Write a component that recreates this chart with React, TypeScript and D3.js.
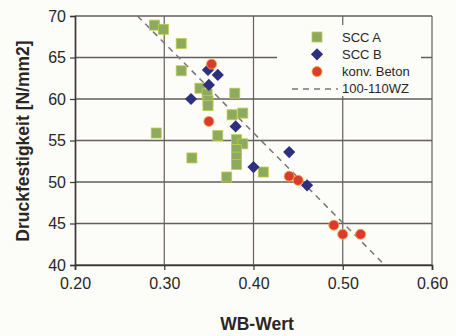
import { useEffect, useRef } from "react";
import * as d3 from "d3";

// WB-Wert vs. Druckfestigkeit
const sccA: [number, number][] = [
  [0.289, 68.9], [0.299, 68.4], [0.319, 66.7], [0.319, 63.4], [0.291, 55.9],
  [0.331, 52.9], [0.340, 61.3], [0.348, 60.6], [0.349, 59.8], [0.349, 59.2],
  [0.379, 60.7], [0.376, 58.1], [0.388, 58.3], [0.360, 55.6], [0.381, 55.1],
  [0.388, 54.6], [0.381, 53.9], [0.381, 53.0], [0.381, 52.1], [0.370, 50.6],
  [0.411, 51.2],
];
const sccB: [number, number][] = [
  [0.349, 63.5], [0.360, 62.9], [0.350, 61.7], [0.330, 60.0], [0.380, 56.7],
  [0.400, 51.8], [0.440, 53.6], [0.460, 49.6],
];
const konvBeton: [number, number][] = [
  [0.353, 64.2], [0.350, 57.3], [0.440, 50.7], [0.450, 50.2], [0.490, 44.8],
  [0.500, 43.7], [0.520, 43.7],
];
const refLine: [number, number][] = [[0.27, 70], [0.547, 40]];
const xTicks = [0.2, 0.3, 0.4, 0.5, 0.6];
const yTicks = [40, 45, 50, 55, 60, 65, 70];
const legendItems = ["SCC A", "SCC B", "konv. Beton", "100-110WZ"];

export default function App() {
  const svgRef = useRef<SVGSVGElement>(null);

  useEffect(() => {
    if (!svgRef.current) return;
    const svg = d3.select(svgRef.current);
    svg.selectAll("*").remove();

    const width = 456;
    const height = 336;
    const x = d3.scaleLinear().domain([0.2, 0.6]).range([75, 432]);
    const y = d3.scaleLinear().domain([40, 70]).range([265, 16]);
    const font = "'Liberation Sans', Arial, sans-serif";
    const gridColor = "#645e5c";

    svg.append("rect").attr("width", width).attr("height", height).attr("fill", "#fcfcf8");

    // grid
    svg.append("g")
      .selectAll("line")
      .data(yTicks)
      .join("line")
      .attr("x1", x(0.2)).attr("x2", x(0.6))
      .attr("y1", (d) => y(d)).attr("y2", (d) => y(d))
      .attr("stroke", gridColor).attr("stroke-width", 1.5);
    svg.append("g")
      .selectAll("line")
      .data(xTicks.slice(1))
      .join("line")
      .attr("x1", (d) => x(d)).attr("x2", (d) => x(d))
      .attr("y1", y(40)).attr("y2", y(70))
      .attr("stroke", gridColor).attr("stroke-width", 1.2);

    // axes
    const yAxis = svg.append("g")
      .attr("transform", `translate(${x(0.2)},0)`)
      .call(d3.axisLeft(y).tickValues(yTicks).tickSize(5).tickPadding(4).tickFormat(d3.format("d")));
    const xAxis = svg.append("g")
      .attr("transform", `translate(0,${y(40)})`)
      .call(d3.axisBottom(x).tickValues(xTicks).tickSize(5).tickPadding(8).tickFormat(d3.format(".2f")));
    [yAxis, xAxis].forEach((a) => {
      a.select(".domain").attr("stroke", "#3b3535").attr("stroke-width", 1.7);
      a.selectAll(".tick line").attr("stroke", "#3b3535").attr("stroke-width", 1.2);
      a.selectAll("text").attr("fill", "#2b2626").style("font-family", font).style("font-size", "16px");
    });

    // legend background hides grid
    svg.append("rect")
      .attr("x", 277).attr("y", 25).attr("width", 144).attr("height", 71)
      .attr("fill", "#fcfcf8");

    // reference line
    svg.append("path")
      .datum(refLine)
      .attr("d", d3.line<[number, number]>().x((d) => x(d[0])).y((d) => y(d[1])))
      .attr("stroke", "#7a7676").attr("stroke-width", 1.5)
      .attr("stroke-dasharray", "6,5").attr("fill", "none");

    const square = (g: d3.Selection<any, any, any, any>) =>
      g.attr("fill", "#8cab5c").attr("stroke", "#c3c94e").attr("stroke-width", 0.8);

    svg.append("g")
      .selectAll("rect")
      .data(sccA)
      .join("rect")
      .attr("x", (d) => x(d[0]) - 5).attr("y", (d) => y(d[1]) - 5)
      .attr("width", 10).attr("height", 10)
      .call(square);

    const diamond = d3.symbol().type(d3.symbolDiamond2).size(95);
    svg.append("g")
      .selectAll("path")
      .data(sccB)
      .join("path")
      .attr("transform", (d) => `translate(${x(d[0])},${y(d[1])})`)
      .attr("d", diamond)
      .attr("fill", "#2f307d");

    svg.append("g")
      .selectAll("circle")
      .data(konvBeton)
      .join("circle")
      .attr("cx", (d) => x(d[0])).attr("cy", (d) => y(d[1]))
      .attr("r", 5)
      .attr("fill", "#dc3a30").attr("stroke", "#eea63a").attr("stroke-width", 0.9);

    // legend
    const lg = svg.append("g");
    const rowY = (i: number) => 37 + i * 17.3;
    lg.append("rect").attr("x", 312).attr("y", rowY(0) - 5).attr("width", 10).attr("height", 10).call(square);
    lg.append("path").attr("transform", `translate(317,${rowY(1)})`).attr("d", diamond).attr("fill", "#2f307d");
    lg.append("circle").attr("cx", 317).attr("cy", rowY(2)).attr("r", 5)
      .attr("fill", "#dc3a30").attr("stroke", "#eea63a").attr("stroke-width", 0.9);
    lg.append("line").attr("x1", 292).attr("x2", 338).attr("y1", rowY(3)).attr("y2", rowY(3))
      .attr("stroke", "#7a7676").attr("stroke-width", 1.5).attr("stroke-dasharray", "6,5");
    lg.selectAll("text")
      .data(legendItems)
      .join("text")
      .attr("x", 342).attr("y", (_, i) => rowY(i)).attr("dy", "0.35em")
      .attr("fill", "#2b2626")
      .style("font-family", font).style("font-size", "13px")
      .text((d) => d);

    // axis titles
    svg.append("text")
      .attr("x", 257).attr("y", 330).attr("text-anchor", "middle")
      .attr("fill", "#2b2626").style("font-family", font).style("font-size", "17.5px").style("font-weight", "bold")
      .text("WB-Wert");
    svg.append("text")
      .attr("transform", `translate(29,141) rotate(-90)`).attr("text-anchor", "middle")
      .attr("fill", "#2b2626").style("font-family", font).style("font-size", "17.5px").style("font-weight", "bold")
      .text("Druckfestigkeit [N/mm2]");
  }, []);

  return (
    <svg
      ref={svgRef}
      width={456}
      height={336}
      style={{ position: "absolute", left: 0, top: 0, display: "block" }}
    />
  );
}
